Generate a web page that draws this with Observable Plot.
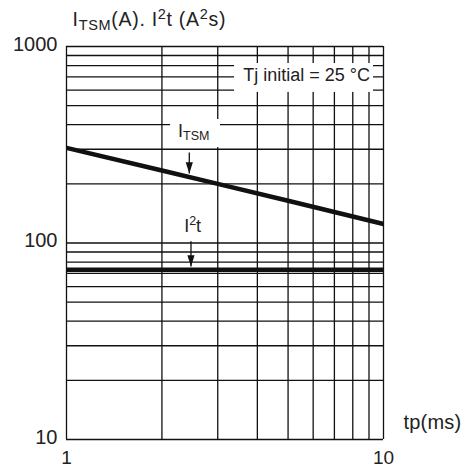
<!DOCTYPE html>
<html>
<head>
<meta charset="utf-8">
<script src="https://cdn.jsdelivr.net/npm/d3@7"></script>
<script src="https://cdn.jsdelivr.net/npm/@observablehq/plot@0.6"></script>
<style>
  html, body { margin: 0; padding: 0; background: white; }
</style>
</head>
<body>
<div id="chart"></div>
<script>
// ---- data ----
const tp = [1, 2, 3, 5, 10];               // ms
const itsm = [305, 234, 200, 164, 125];    // A
const i2tTp = [1, 10];
const i2t = [73, 73];                      // A²s

const xGridTicks = [1, 2, 3, 4, 5, 6, 7, 8, 9, 10];
const yGridTicks = [10, 20, 30, 40, 50, 60, 70, 80, 90, 100, 200, 300, 400, 500, 600, 700, 800, 900, 1000];
const xTickLabels = [1, 10];
const yTickLabels = [10, 100, 1000];

// annotations (data coordinates)
const labelBoxes = [
  {x1: 3.39, x2: 9.30, y1: 584, y2: 819},   // Tj initial
  {x1: 2.13, x2: 3.06, y1: 306, y2: 425}    // ITSM
];
const labels = [
  {x: 5.72, y: 712, text: "Tj initial = 25 °C"},
  {x: 2.52, y: 371, text: "I_{TSM}"},
  {x: 2.50, y: 122, text: "I^{2}t"}
];
const arrows = [
  {x: 2.44, from: 289, to: 226},
  {x: 2.47, from: 102, to: 76}
];
const title = "I_{TSM}(A). I^{2}t (A^{2}s)";
const xTitle = "tp(ms)";

// ---- helpers ----
const tableItsm = tp.map((t, i) => ({t, v: itsm[i]}));
const tableI2t = i2tTp.map((t, i) => ({t, v: i2t[i]}));

const downTriangle = {
  draw(ctx, size) {
    const s = Math.sqrt(size / Math.PI);
    ctx.moveTo(0, 0);
    ctx.lineTo(-s * 0.9, -s * 2.8);
    ctx.lineTo(s * 0.9, -s * 2.8);
    ctx.closePath();
  }
};

const ink = "#111";
const textInk = "#222";

const chart = Plot.plot({
  width: 467,
  height: 468,
  marginLeft: 66,
  marginRight: 84,
  marginTop: 46,
  marginBottom: 29,
  style: {fontFamily: "'Liberation Sans', Arial, Helvetica, sans-serif", background: "white", color: textInk},
  x: {type: "log", domain: [1, 10]},
  y: {type: "log", domain: [10, 1000]},
  marks: [
    Plot.ruleX(xGridTicks, {stroke: ink, strokeWidth: 1.3}),
    Plot.ruleY(yGridTicks, {stroke: ink, strokeWidth: 1.3}),
    Plot.rect(labelBoxes, {x1: "x1", x2: "x2", y1: "y1", y2: "y2", fill: "white"}),
    Plot.line(tableItsm, {x: "t", y: "v", stroke: ink, strokeWidth: 4.5, clip: true}),
    Plot.line(tableI2t, {x: "t", y: "v", stroke: ink, strokeWidth: 4.5, clip: true}),
    Plot.link(arrows, {x1: "x", x2: "x", y1: "from", y2: "to", stroke: ink, strokeWidth: 1.3}),
    Plot.dot(arrows, {x: "x", y: "to", symbol: downTriangle, r: 4, fill: ink, stroke: null}),
    Plot.text(labels, {x: "x", y: "y", text: "text", fontSize: 18, fill: textInk, textAnchor: "middle", lineAnchor: "middle", className: "rich"}),
    Plot.text([title], {frameAnchor: "top-left", dx: 6, dy: -26.5, fontSize: 19.5, fill: textInk, textAnchor: "start", lineAnchor: "middle", className: "richtitle"}),
    Plot.text([xTitle], {frameAnchor: "bottom-right", dx: 20, dy: -17, fontSize: 20, fill: textInk, textAnchor: "start", lineAnchor: "middle", className: "xtitle"}),
    Plot.axisY({ticks: yTickLabels, tickSize: 0, tickPadding: 9, tickFormat: d => String(d), fontSize: 20, dy: -2, label: null}),
    Plot.axisX({ticks: xTickLabels, tickSize: 0, tickPadding: 11, tickFormat: d => String(d), fontSize: 19, label: null})
  ]
});

// sub/superscript formatting for labels written as I_{TSM}, I^{2}t
function richify(el, small, subShift, supShift) {
  const s = el.textContent;
  if (!/[_^]\{/.test(s)) return;
  el.textContent = "";
  const re = /([_^])\{([^}]*)\}|([^_^]+)/g;
  let m, offset = 0;
  while ((m = re.exec(s)) !== null) {
    const ts = document.createElementNS("http://www.w3.org/2000/svg", "tspan");
    if (m[3] !== undefined) {
      ts.textContent = m[3];
      if (offset !== 0) ts.setAttribute("dy", (-offset) + "px");
      offset = 0;
    } else {
      const target = m[1] === "_" ? subShift : supShift;
      ts.textContent = m[2];
      ts.setAttribute("font-size", small + "px");
      ts.setAttribute("dy", (target - offset) + "px");
      offset = target;
    }
    el.appendChild(ts);
  }
}
const svg = d3.select(chart);
svg.selectAll("g.rich text").each(function() { richify(this, 12.5, 3.5, -7); });
svg.selectAll("g.richtitle text").each(function() { richify(this, 14.5, 3.5, -7.5); })
  .attr("letter-spacing", "0.7px");
svg.selectAll("g.xtitle text").attr("letter-spacing", "0.2px");

document.getElementById("chart").appendChild(chart);
</script>
</body>
</html>
